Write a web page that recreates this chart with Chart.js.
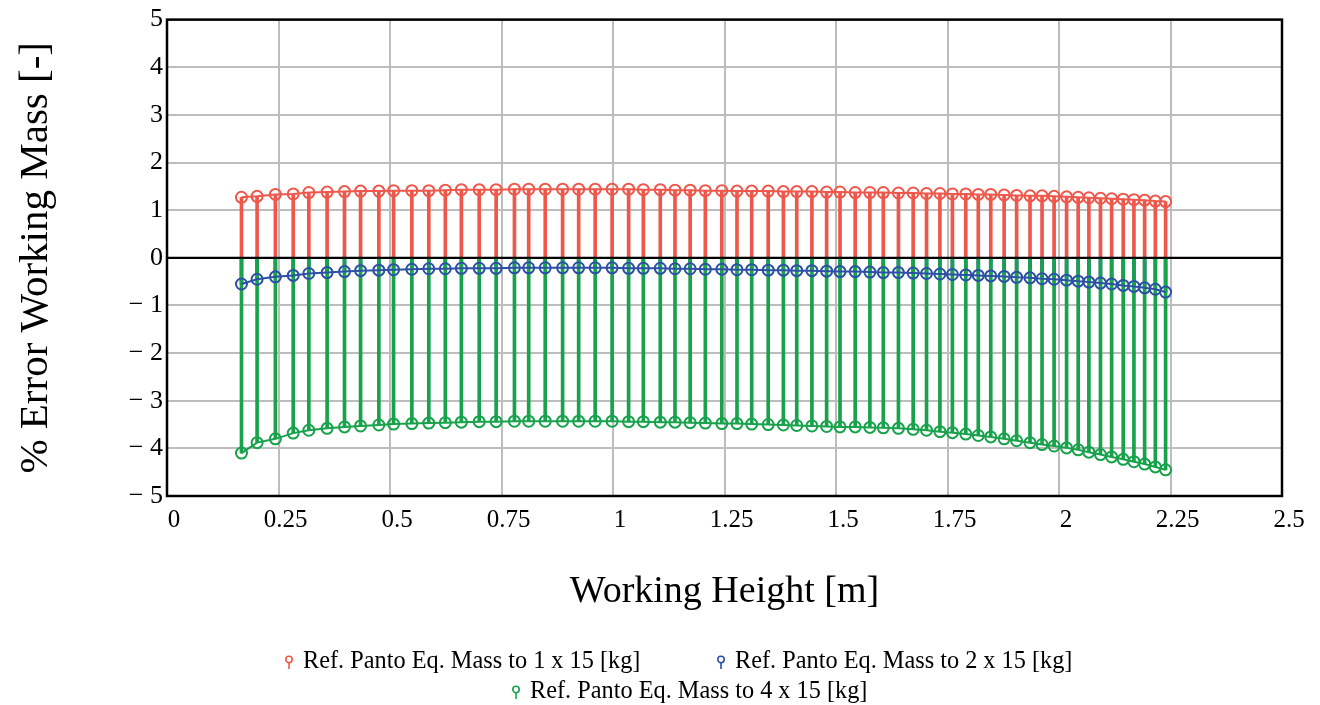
<!DOCTYPE html>
<html>
<head>
<meta charset="utf-8">
<script src="https://cdn.jsdelivr.net/npm/chart.js@4.4.1/dist/chart.umd.min.js"></script>
<style>
  html, body { margin: 0; padding: 0; background: #fff; }
  #wrap { position: relative; width: 1320px; height: 705px; }
  .leg { position: absolute; font-family: "Liberation Serif", "Times New Roman", serif; font-size: 24.3px; color: #000; white-space: nowrap; line-height: 26px; }
  .leg svg { vertical-align: -1px; margin-right: 9px; }
</style>
</head>
<body>
<div id="wrap">
  <canvas id="chart" width="1320" height="705"></canvas>
  <div id="legend"></div>
</div>
<script>
// working height [m]
const heights = [0.167,0.202,0.243,0.283,0.318,0.359,0.398,0.434,0.475,0.508,
  0.549,0.587,0.624,0.660,0.700,0.738,0.779,0.811,0.848,0.887,
  0.923,0.960,0.998,1.035,1.068,1.106,1.139,1.173,1.207,1.244,
  1.278,1.311,1.348,1.382,1.412,1.446,1.479,1.509,1.543,1.576,
  1.606,1.640,1.673,1.703,1.733,1.761,1.791,1.819,1.847,1.877,
  1.905,1.935,1.962,1.989,2.017,2.043,2.067,2.093,2.118,2.144,
  2.168,2.192,2.216,2.239];

// % error, 1 x 15 kg
const errMass1 = [1.27,1.29,1.33,1.34,1.37,1.38,1.39,1.40,1.40,1.41,
  1.41,1.41,1.42,1.43,1.43,1.43,1.44,1.44,1.44,1.44,
  1.44,1.44,1.44,1.44,1.43,1.43,1.42,1.42,1.41,1.41,
  1.40,1.40,1.40,1.39,1.39,1.39,1.38,1.38,1.37,1.37,
  1.37,1.36,1.36,1.35,1.35,1.34,1.34,1.33,1.33,1.32,
  1.31,1.30,1.30,1.29,1.28,1.27,1.26,1.25,1.24,1.23,
  1.22,1.21,1.19,1.18];

// % error, 2 x 15 kg
const errMass2 = [-0.55,-0.45,-0.40,-0.37,-0.33,-0.31,-0.29,-0.27,-0.26,-0.25,
  -0.24,-0.23,-0.23,-0.22,-0.22,-0.22,-0.21,-0.21,-0.21,-0.21,
  -0.21,-0.21,-0.21,-0.22,-0.22,-0.22,-0.23,-0.23,-0.24,-0.24,
  -0.25,-0.25,-0.26,-0.26,-0.27,-0.27,-0.28,-0.29,-0.29,-0.30,
  -0.31,-0.31,-0.32,-0.33,-0.34,-0.35,-0.36,-0.37,-0.38,-0.39,
  -0.41,-0.42,-0.44,-0.45,-0.47,-0.49,-0.51,-0.53,-0.55,-0.58,
  -0.60,-0.63,-0.66,-0.72];

// % error, 4 x 15 kg
const errMass4 = [-4.10,-3.88,-3.80,-3.68,-3.62,-3.58,-3.55,-3.53,-3.51,-3.49,
  -3.48,-3.47,-3.46,-3.45,-3.44,-3.44,-3.43,-3.43,-3.43,-3.43,
  -3.43,-3.43,-3.43,-3.44,-3.44,-3.45,-3.45,-3.46,-3.47,-3.48,
  -3.48,-3.49,-3.50,-3.51,-3.52,-3.53,-3.54,-3.55,-3.55,-3.56,
  -3.57,-3.58,-3.60,-3.62,-3.65,-3.67,-3.70,-3.73,-3.76,-3.80,
  -3.84,-3.88,-3.92,-3.95,-3.99,-4.03,-4.08,-4.13,-4.18,-4.23,
  -4.28,-4.33,-4.39,-4.45];

const seriesNames = [
  'Ref. Panto Eq. Mass to 1 x 15 [kg]',
  'Ref. Panto Eq. Mass to 2 x 15 [kg]',
  'Ref. Panto Eq. Mass to 4 x 15 [kg]'
];
const seriesColors = ['#f0574b', '#2c50a6', '#17a24b'];

const serif = '"Liberation Serif", "Times New Roman", serif';
const gridGrey = '#bdbdbd';

let toPoints = (vals) => heights.map((h, i) => ({ x: h, y: vals[i] }));

// stems (bars from zero)
let stem = (vals, color, order) => ({
  type: 'bar',
  data: toPoints(vals),
  backgroundColor: color,
  borderWidth: 0,
  barThickness: 3,
  grouped: false,
  order: order
});

// markers joined by a thin line
let marks = (label, vals, color, order) => ({
  type: 'line',
  label: label,
  data: toPoints(vals),
  borderColor: color,
  borderWidth: 2,
  pointRadius: 5.5,
  pointBorderWidth: 2,
  pointBorderColor: color,
  pointBackgroundColor: 'rgba(255,255,255,0)',
  tension: 0,
  fill: false,
  order: order
});

// box around the plot and zero line on top
const framePlugin = {
  id: 'frame',
  afterDatasetsDraw(chart) {
    const { ctx, chartArea: a, scales } = chart;
    const y0 = scales.y.getPixelForValue(0);
    ctx.save();
    ctx.strokeStyle = '#000';
    ctx.lineWidth = 2;
    ctx.beginPath();
    ctx.moveTo(a.left, y0);
    ctx.lineTo(a.right, y0);
    ctx.stroke();
    ctx.lineWidth = 2.5;
    ctx.strokeRect(a.left, a.top, a.right - a.left, a.bottom - a.top);
    ctx.restore();
  }
};

const datasets = [
  marks(seriesNames[0], errMass1, seriesColors[0], 0),
  marks(seriesNames[1], errMass2, seriesColors[1], 1),
  marks(seriesNames[2], errMass4, seriesColors[2], 2),
  stem(errMass4, seriesColors[2], 3),
  stem(errMass2, seriesColors[1], 4),
  stem(errMass1, seriesColors[0], 5)
];

new Chart(document.getElementById('chart'), {
  type: 'line',
  data: { datasets: datasets },
  options: {
    responsive: false,
    animation: false,
    layout: { padding: { top: 18, right: 38, bottom: 0, left: 0 } },
    plugins: {
      legend: { display: false },
      tooltip: { enabled: false }
    },
    scales: {
      x: {
        type: 'linear',
        min: 0,
        max: 2.5,
        offset: false,
        grid: { color: gridGrey, lineWidth: 2, drawTicks: false, offset: false },
        border: { display: false },
        ticks: {
          stepSize: 0.25,
          autoSkip: false,
          maxRotation: 0,
          padding: 9,
          labelOffset: 7,
          color: '#000',
          font: { family: serif, size: 25 },
          callback: (v) => String(+v.toFixed(2))
        },
        title: {
          display: true,
          text: 'Working Height [m]',
          color: '#000',
          font: { family: serif, size: 38 },
          padding: { top: 0, bottom: 90 }
        },
        afterFit: (s) => { s.height = 209; }
      },
      y: {
        type: 'linear',
        min: -5,
        max: 5,
        grid: {
          color: (c) => (c.tick && c.tick.value === 0) ? '#000' : gridGrey,
          lineWidth: 2,
          drawTicks: false
        },
        border: { display: false },
        ticks: {
          stepSize: 1,
          padding: 4,
          color: '#000',
          font: { family: serif, size: 26 },
          callback: (v) => v < 0 ? '\u2212 ' + (-v) : String(v)
        },
        title: {
          display: true,
          text: '% Error Working Mass [-]',
          color: '#000',
          font: { family: serif, size: 41 },
          padding: { top: 12, bottom: 0 }
        },
        afterFit: (s) => { s.width = 167; }
      }
    }
  },
  plugins: [framePlugin]
});

// legend below the plot (two rows)
const legendPos = [[284, 647], [716, 647], [511, 677]];
let legend = document.getElementById('legend');
seriesNames.forEach((name, i) => {
  let div = document.createElement('div');
  div.className = 'leg';
  div.style.left = legendPos[i][0] + 'px';
  div.style.top = legendPos[i][1] + 'px';
  let c = seriesColors[i];
  div.innerHTML = '<svg width="10" height="14" viewBox="0 0 10 14">' +
    '<line x1="5" y1="7" x2="5" y2="14" stroke="' + c + '" stroke-width="1.6"/>' +
    '<circle cx="5" cy="4.5" r="3.2" fill="none" stroke="' + c + '" stroke-width="1.6"/></svg>';
  let span = document.createElement('span');
  span.innerText = name;
  div.appendChild(span);
  legend.appendChild(div);
});
</script>
</body>
</html>
